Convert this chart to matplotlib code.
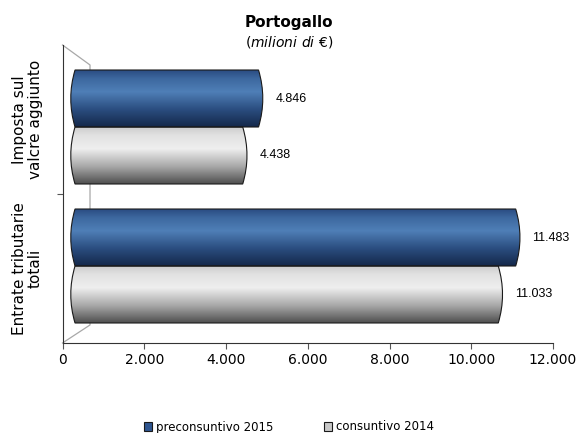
import numpy as np
import matplotlib
matplotlib.use("Agg")
from matplotlib import pyplot as plt
from matplotlib.path import Path
from matplotlib.patches import PathPatch, Patch
from matplotlib.colors import LinearSegmentedColormap

# categories listed bottom to top
categories = ["Entrate tributarie\ntotali", "Imposta sul\nvalcre aggiunto"]
preconsuntivo_2015 = [11483, 4846]
consuntivo_2014 = [11033, 4438]
series_names = ["preconsuntivo 2015", "consuntivo 2014"]
xticks = [0, 2000, 4000, 6000, 8000, 10000, 12000]


def fmt_it(v):
    return f"{v:,.0f}".replace(",", ".")


blue_cmap = LinearSegmentedColormap.from_list(
    "blu", [(0.0, "#14284a"), (0.3, "#2a4c7e"), (0.62, "#4f7fb7"),
            (0.85, "#3d689f"), (1.0, "#2a4c82")])
grey_cmap = LinearSegmentedColormap.from_list(
    "grigio", [(0.0, "#4e4e4e"), (0.3, "#a6a6a6"), (0.62, "#efefef"),
               (0.85, "#e2e2e2"), (1.0, "#cdcdcd")])

fig = plt.figure(figsize=(5.78, 4.33), dpi=100)

# front frame with the value axis
frame = fig.add_axes([62.5 / 578, 1 - 343 / 433, 490.5 / 578, 298 / 433])
frame.set_xlim(0, 12000)
frame.set_ylim(0, 2)
frame.set_facecolor("none")
for s in ["top", "right"]:
    frame.spines[s].set_visible(False)
frame.spines["left"].set_color("#333333")
frame.spines["bottom"].set_color("#333333")
frame.set_xticks(xticks)
frame.set_xticklabels([fmt_it(v) for v in xticks], fontsize=10)
frame.set_yticks([1])
frame.set_yticklabels([])
frame.tick_params(axis="both", direction="out", length=4, color="#555555", pad=3)
# side wall of the 3d box
frame.plot([0, 673, 673, 0], [2, 1.866, 0.121, 0], color="#a8a8a8", lw=0.9,
           clip_on=False, zorder=1)

# category labels, left of the frame
for i, lab in enumerate(categories):
    frame.text(-0.072, (0.5 + i) / 2, lab, rotation=90, ha="center",
               va="center", fontsize=11, linespacing=1.1,
               transform=frame.transAxes)

# bars sit in their own axes, a bit deeper than the front frame
x0 = -300
ax = fig.add_axes([63.4 / 578, 1 - 335.5 / 433, 476.6 / 578, 278 / 433])
ax.axis("off")

h = 0.41
cap = 110
grad = np.linspace(0, 1, 256).reshape(-1, 1)


def cylinder(v, y0, y1):
    ym = (y0 + y1) / 2
    verts = [(0, y0), (v - cap, y0), (v + cap, ym), (v - cap, y1),
             (0, y1), (-2 * cap, ym), (0, y0), (0, y0)]
    codes = [Path.MOVETO, Path.LINETO, Path.CURVE3, Path.CURVE3,
             Path.LINETO, Path.CURVE3, Path.CURVE3, Path.CLOSEPOLY]
    return Path(verts, codes)


for i in range(len(categories)):
    for vals, cmap, y0 in [(preconsuntivo_2015, blue_cmap, i),
                           (consuntivo_2014, grey_cmap, i - h)]:
        v = vals[i]
        patch = PathPatch(cylinder(v, y0, y0 + h), facecolor="none",
                          edgecolor="#1a1a1a", lw=0.8, zorder=3)
        ax.add_patch(patch)
        im = ax.imshow(grad, cmap=cmap, origin="lower", aspect="auto",
                       extent=[-2 * cap, v + cap, y0, y0 + h], zorder=2)
        im.set_clip_path(patch)
        ax.annotate(fmt_it(v), (v, y0 + h / 2), xytext=(9, 0),
                    textcoords="offset points", ha="left", va="center",
                    fontsize=9, family="Liberation Sans")

ax.set_xlim(x0, 12000)
ax.set_ylim(-0.5, 1.5)

fig.text(0.5, 1 - 22 / 433, "Portogallo", ha="center", va="center",
         fontsize=11, fontweight="bold")
fig.text(0.5, 1 - 42 / 433, r"($\it{milioni\ di\ €}$)", ha="center",
         va="center", fontsize=10)

handles = [Patch(facecolor="#2f5690", edgecolor="#1a1a1a", lw=0.8),
           Patch(facecolor="#c8c8c8", edgecolor="#1a1a1a", lw=0.8)]
fig.legend(handles, series_names, loc="center", bbox_to_anchor=(0.5, 1 - 427 / 433),
           ncol=2, frameon=False, fontsize=8.5, handlelength=0.7, handleheight=0.7,
           handletextpad=0.3, columnspacing=4.3)

fig.savefig("out.png", dpi=100)
